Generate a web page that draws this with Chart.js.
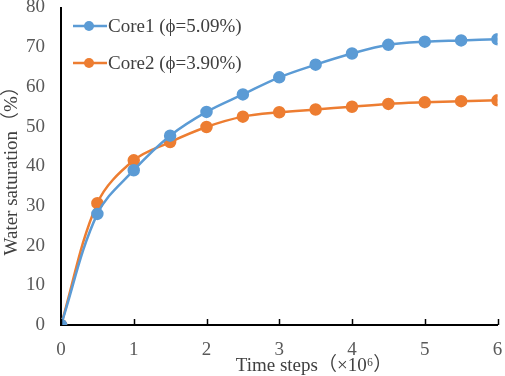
<!DOCTYPE html>
<html>
<head>
<meta charset="utf-8">
<script src="https://cdn.jsdelivr.net/npm/chart.js@4.4.1/dist/chart.umd.min.js"></script>
<style>
  html, body { margin: 0; padding: 0; background: #fff; }
  #wrap { width: 505px; height: 376px; }
</style>
</head>
<body>
<div id="wrap"><canvas id="satChart"></canvas></div>
<script>
// time steps (x10^6) and water saturation (%)
const timeSteps = [0, 0.5, 1, 1.5, 2, 2.5, 3, 3.5, 4, 4.5, 5, 5.5, 6];
const core1 = [0, 28.0, 39.0, 47.7, 53.7, 58.1, 62.4, 65.6, 68.4, 70.6, 71.4, 71.7, 72.0];
const core2 = [0, 30.7, 41.5, 46.1, 49.9, 52.5, 53.6, 54.3, 55.0, 55.7, 56.1, 56.4, 56.6];
const seriesNames = ['Core1 (\u03D5=5.09%)', 'Core2 (\u03D5=3.90%)'];
const seriesColors = ['#5B9BD5', '#ED7D31'];
const xTicks = [0, 1, 2, 3, 4, 5, 6];
const yTicks = [0, 10, 20, 30, 40, 50, 60, 70, 80];

const FONT = '"Liberation Serif", "Times New Roman", "Noto Sans CJK SC", serif';

function toPoints(vals) {
    return timeSteps.map((t, i) => ({ x: t, y: vals[i] }));
}

// legend inside the plot, inward x ticks, axis titles
const overlay = {
    id: 'overlay',
    afterDraw(chart) {
        const ctx = chart.ctx;
        const area = chart.chartArea;
        const xs = chart.scales.x;
        ctx.save();

        ctx.strokeStyle = '#000';
        ctx.lineWidth = 1.5;
        xTicks.forEach(v => {
            const px = Math.round(xs.getPixelForValue(v)) + 0.5;
            ctx.beginPath();
            ctx.moveTo(px, area.bottom);
            ctx.lineTo(px, area.bottom - 6);
            ctx.stroke();
        });

        ctx.font = '19px ' + FONT;
        ctx.textBaseline = 'middle';
        chart.data.datasets.forEach((ds, i) => {
            const y = 26 + i * 37;
            ctx.strokeStyle = ds.borderColor;
            ctx.lineWidth = 2.5;
            ctx.beginPath();
            ctx.moveTo(73, y);
            ctx.lineTo(107, y);
            ctx.stroke();
            ctx.fillStyle = ds.backgroundColor;
            ctx.beginPath();
            ctx.arc(89, y, 5, 0, Math.PI * 2);
            ctx.fill();
            ctx.fillStyle = '#404040';
            ctx.textAlign = 'left';
            ctx.fillText(ds.label, 108, y + 1);
        });

        ctx.fillStyle = '#404040';
        ctx.textAlign = 'center';
        ctx.fillText('Time steps\uFF08\u00D710\u2076\uFF09', 314, 366);

        ctx.translate(12, (area.top + area.bottom) / 2);
        ctx.rotate(-Math.PI / 2);
        ctx.fillText('Water saturation\uFF08%\uFF09', 0, 0);
        ctx.restore();
    }
};

const ctx1 = document.getElementById('satChart').getContext('2d');
const satChart = new Chart(ctx1, {
    type: 'line',
    data: {
        datasets: [{
            label: seriesNames[0],
            data: toPoints(core1),
            borderColor: seriesColors[0],
            backgroundColor: seriesColors[0],
            borderWidth: 2.5,
            pointRadius: 5,
            tension: 0.35
        }, {
            label: seriesNames[1],
            data: toPoints(core2),
            borderColor: seriesColors[1],
            backgroundColor: seriesColors[1],
            borderWidth: 2.5,
            pointRadius: 5,
            tension: 0.35
        }]
    },
    plugins: [overlay],
    options: {
        responsive: true,
        maintainAspectRatio: false,
        animation: false,
        events: [],
        layout: {
            padding: { top: 6, right: 5, left: 0, bottom: 0 }
        },
        plugins: {
            legend: { display: false },
            tooltip: { enabled: false }
        },
        scales: {
            x: {
                type: 'linear',
                min: 0,
                max: 6,
                afterBuildTicks: (scale) => { scale.ticks = xTicks.map(v => ({ value: v })); },
                afterFit: (scale) => {
                    scale.height = 51;
                    scale.paddingLeft = 0;
                    scale.paddingRight = 5;
                },
                border: { color: '#000', width: 2 },
                grid: { display: false },
                ticks: {
                    padding: 6,
                    color: '#595959',
                    font: { family: FONT, size: 19 }
                }
            },
            y: {
                min: 0,
                max: 80,
                afterBuildTicks: (scale) => { scale.ticks = yTicks.map(v => ({ value: v })); },
                afterFit: (scale) => {
                    scale.width = 61;
                    scale.paddingTop = 6;
                    scale.paddingBottom = 0;
                },
                border: { color: '#000', width: 2 },
                grid: { display: false },
                ticks: {
                    padding: 8,
                    color: '#595959',
                    font: { family: FONT, size: 19 }
                }
            }
        }
    }
});
</script>
</body>
</html>
